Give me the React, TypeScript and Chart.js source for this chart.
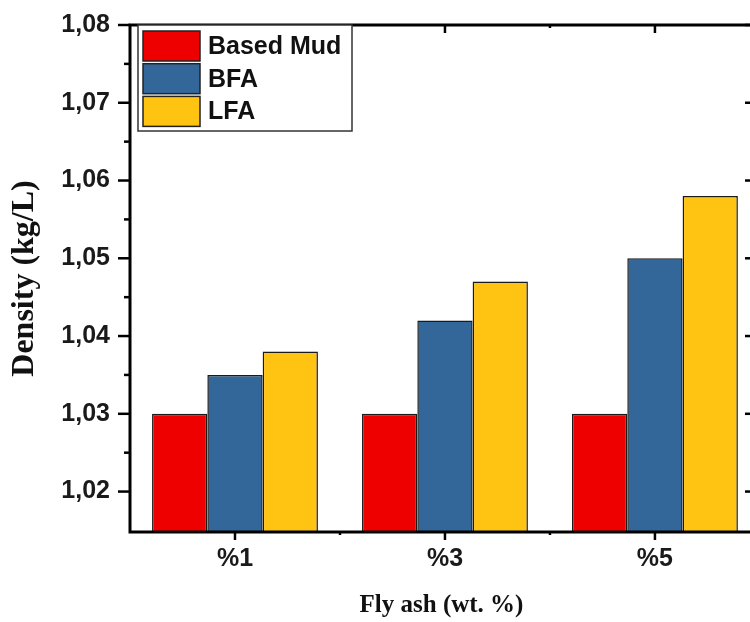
import React, { useEffect, useRef } from 'react';
import { Chart, registerables } from 'chart.js';

Chart.register(...registerables);

const categories = ['%1', '%3', '%5'];
const seriesLabels = ['Based Mud', 'BFA', 'LFA'];
const basedMud = [1.03, 1.03, 1.03];
const bfa = [1.035, 1.042, 1.05];
const lfa = [1.038, 1.047, 1.058];
const seriesColors = ['#EE0000', '#336699', '#FFC312'];
const yTickValues = [1.02, 1.03, 1.04, 1.05, 1.06, 1.07, 1.08];
const yMinorValues = [1.025, 1.035, 1.045, 1.055, 1.065, 1.075];

const SANS = '"Liberation Sans", Arial, Helvetica, sans-serif';
const SERIF = '"Liberation Serif", "Times New Roman", serif';

const framePlugin = {
  id: 'frameAndLegend',
  afterDatasetsDraw(chart: any) {
    const { ctx, chartArea, scales } = chart;
    const { left, right, top, bottom } = chartArea;
    const x = scales.x;
    const y = scales.y;
    ctx.save();
    ctx.strokeStyle = '#000';
    ctx.lineWidth = 3;
    ctx.strokeRect(left, top, right - left, bottom - top);
    ctx.lineWidth = 2.5;
    const line = (x1: number, y1: number, x2: number, y2: number) => {
      ctx.beginPath();
      ctx.moveTo(x1, y1);
      ctx.lineTo(x2, y2);
      ctx.stroke();
    };
    yTickValues.forEach((v) => {
      const py = y.getPixelForValue(v);
      line(left - 12, py, left, py);
      line(right, py, right - 8, py);
    });
    yMinorValues.forEach((v) => {
      const py = y.getPixelForValue(v);
      line(left - 6, py, left, py);
    });
    categories.forEach((_, i) => {
      const px = x.getPixelForValue(i);
      line(px, bottom, px, bottom + 8);
      line(px, top, px, top + 8);
      if (i < categories.length - 1) {
        const pm = x.getPixelForValue(i + 0.5);
        line(pm, bottom, pm, bottom + 3);
        line(pm, top, pm, top + 3);
      }
    });
    ctx.restore();
  },
  afterDraw(chart: any) {
    const { ctx, chartArea } = chart;
    const bx = chartArea.left + 8;
    const by = chartArea.top;
    const bw = 214;
    const bh = 106;
    ctx.save();
    ctx.fillStyle = '#fff';
    ctx.fillRect(bx, by, bw, bh);
    ctx.strokeStyle = '#333';
    ctx.lineWidth = 1.5;
    ctx.strokeRect(bx, by, bw, bh);
    chart.data.datasets.forEach((ds: any, i: number) => {
      const sy = by + 6 + i * 32.7;
      ctx.fillStyle = ds.backgroundColor;
      ctx.fillRect(bx + 5, sy, 57, 30);
      ctx.strokeStyle = '#222';
      ctx.lineWidth = 1.5;
      ctx.strokeRect(bx + 5, sy, 57, 30);
      ctx.fillStyle = '#111';
      ctx.font = `bold 25px ${SANS}`;
      ctx.textBaseline = 'middle';
      ctx.textAlign = 'left';
      ctx.fillText(ds.label, bx + 70, sy + 16);
    });
    ctx.restore();
  },
};

export default function App() {
  const ref = useRef<HTMLCanvasElement>(null);
  useEffect(() => {
    if (!ref.current) return;
    const series = [basedMud, bfa, lfa];
    const chart = new Chart(ref.current, {
      type: 'bar',
      data: {
        datasets: series.map((vals, si) => ({
          label: seriesLabels[si],
          data: vals.map((v, i) => ({ x: i, y: v })),
          backgroundColor: seriesColors[si],
          borderColor: '#1a1a1a',
          borderWidth: 1.5,
          categoryPercentage: 0.79,
          barPercentage: 1,
        })),
      },
      options: {
        responsive: false,
        animation: false,
        devicePixelRatio: 1,
        layout: { padding: { left: 0, top: 25, right: 3, bottom: 0 } },
        plugins: { legend: { display: false }, tooltip: { enabled: false } },
        scales: {
          x: {
            type: 'linear',
            offset: false,
            min: -0.5,
            max: 2.467,
            grid: { display: false, drawTicks: false, offset: false },
            border: { display: false },
            afterBuildTicks: (scale: any) => {
              scale.ticks = categories.map((_, i) => ({ value: i }));
            },
            afterFit: (scale: any) => {
              scale.height = 90;
              scale.paddingLeft = 0;
              scale.paddingRight = 0;
            },
            ticks: {
              padding: 12,
              color: '#1a1a1a',
              font: { family: SANS, size: 25, weight: 'bold' },
              callback: (v: any) => categories[Math.round(Number(v))] ?? '',
            },
            title: {
              display: true,
              text: 'Fly ash (wt. %)',
              color: '#111',
              font: { family: SERIF, size: 25, weight: 'bold' },
              padding: { top: 0, bottom: 1 },
            },
          },
          y: {
            type: 'linear',
            min: 1.0148,
            max: 1.08,
            grid: { display: false, drawTicks: false },
            border: { display: false },
            afterBuildTicks: (scale: any) => {
              scale.ticks = yTickValues.map((v) => ({ value: v }));
            },
            afterFit: (scale: any) => {
              scale.width = 130;
              scale.paddingTop = 0;
              scale.paddingBottom = 0;
            },
            ticks: {
              padding: 20,
              color: '#1a1a1a',
              font: { family: SANS, size: 25, weight: 'bold' },
              callback: (v: any) => Number(v).toFixed(2).replace('.', ','),
            },
            title: {
              display: true,
              text: 'Density (kg/L)',
              color: '#111',
              font: { family: SERIF, size: 32, weight: 'bold' },
              padding: { top: 6, bottom: 0 },
            },
          },
        },
      },
      plugins: [framePlugin],
    } as any);
    return () => chart.destroy();
  }, []);
  return (
    <div
      style={{
        position: 'absolute',
        left: 0,
        top: 0,
        width: 750,
        height: 622,
        overflow: 'hidden',
        background: '#fff',
      }}
    >
      <canvas ref={ref} width={756} height={622} style={{ display: 'block' }} />
    </div>
  );
}
